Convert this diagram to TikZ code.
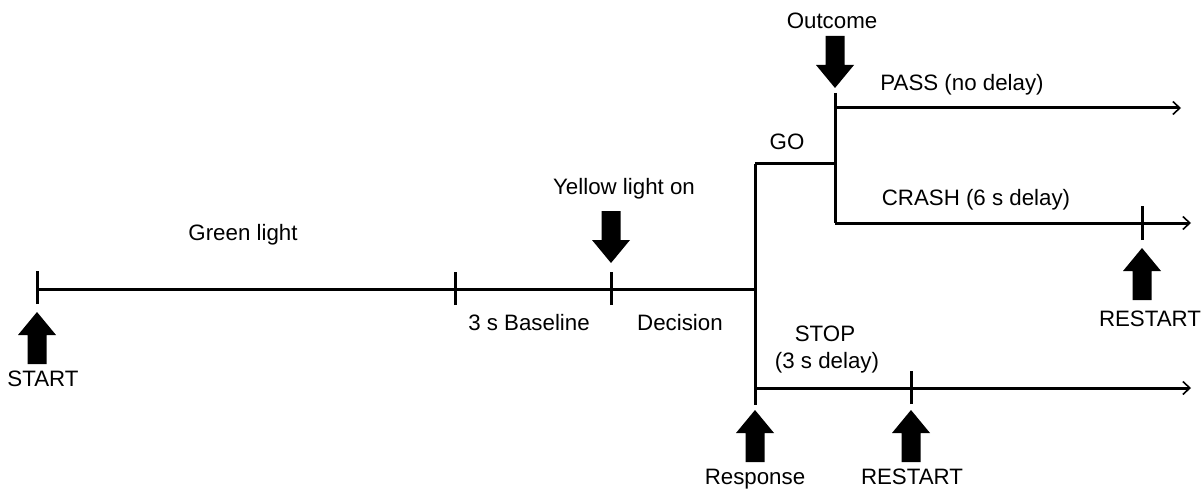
\documentclass[tikz,border=0pt]{standalone}
\usepackage{fontspec}
\setmainfont{Liberation Sans}
\usetikzlibrary{arrows.meta}

\tikzset{
  upbig/.pic={\fill (0,0) -- (19,23) -- (9.5,23) -- (9.5,52) -- (-9.5,52) -- (-9.5,23) -- (-19,23) -- cycle;},
  downbig/.pic={\fill (0,0) -- (19,-23) -- (9.5,-23) -- (9.5,-52) -- (-9.5,-52) -- (-9.5,-23) -- (-19,-23) -- cycle;},
  lbl/.style={inner sep=0pt,text height=16pt,text depth=0pt,font=\fontsize{22.3}{26}\selectfont},
  tline/.style={line width=3pt},
  tick/.style={line width=3pt},
  endtip/.style={-{Straight Barb[length=7pt,width=13pt,line width=1.6pt]}}
}

\begin{document}
\begin{tikzpicture}[x=1pt,y=-1pt]
    \useasboundingbox (0,0) rectangle (1204,489);
    % time points
    \coordinate (s) at (37,289);
    \coordinate (b) at (455,289);
    \coordinate (y) at (611,289);
    \coordinate (r) at (755,289);
    \coordinate (rtop) at (755,164);
    \coordinate (rbot) at (755,405);
    \coordinate (stop) at (755,388);
    \coordinate (stopend) at (1191,388);
    \coordinate (go) at (835,164);
    \coordinate (otop) at (835,93);
    \coordinate (obot) at (835,223);
    \coordinate (pass) at (835,108);
    \coordinate (passend) at (1181,108);
    \coordinate (crashend) at (1191,223);
    \coordinate (rs1) at (1142,223);
    \coordinate (rs2) at (911,388);
    % lines
    \draw[tline] (s) -- (r);
    \draw[tline] (rtop) -- (rbot);
    \draw[tline] (rtop) -- (go);
    \draw[tline] (otop) -- (obot);
    \draw[tline,endtip] (pass) -- (passend);
    \draw[tline,endtip] (obot) -- (crashend);
    \draw[tline,endtip] (stop) -- (stopend);
    % ticks
    \draw[tick] ([yshift=-15pt]s) -- ([yshift=18pt]s);
    \draw[tick] ([yshift=-16pt]b) -- ([yshift=17pt]b);
    \draw[tick] ([yshift=-16pt]y) -- ([yshift=17pt]y);
    \draw[tick] ([yshift=-17pt]rs1) -- ([yshift=17pt]rs1);
    \draw[tick] ([yshift=-16pt]rs2) -- ([yshift=17pt]rs2);
    % big arrows
    \pic at (37,312) {upbig};
    \pic at (611,263) {downbig};
    \pic at (835,88) {downbig};
    \pic at (1142,248) {upbig};
    \pic at (755,410) {upbig};
    \pic at (911,410) {upbig};
    % labels
    \node[lbl] (start) at (43,378) {START};
    \node[lbl] (green) at (243,232) {Green light};
    \node[lbl] (base) at (529,322) {3 s Baseline};
    \node[lbl] (dec) at (680,322) {Decision};
    \node[lbl] (yellow) at (624,186) {Yellow light on};
    \node[lbl] (outc) at (832,21) {Outcome};
    \node[lbl] (golbl) at (787,142) {GO};
    \node[lbl] (passlbl) at (962,83) {PASS (no delay)};
    \node[lbl] (crashlbl) at (976,198) {CRASH (6 s delay)};
    \node[lbl] (restart1) at (1150,318) {RESTART};
    \node[lbl] (stoplbl) at (825,333) {STOP};
    \node[lbl] (stopdel) at (827,360) {(3 s delay)};
    \node[lbl] (resp) at (755,476) {Response};
    \node[lbl] (restart2) at (912,476) {RESTART};
\end{tikzpicture}
\end{document}
